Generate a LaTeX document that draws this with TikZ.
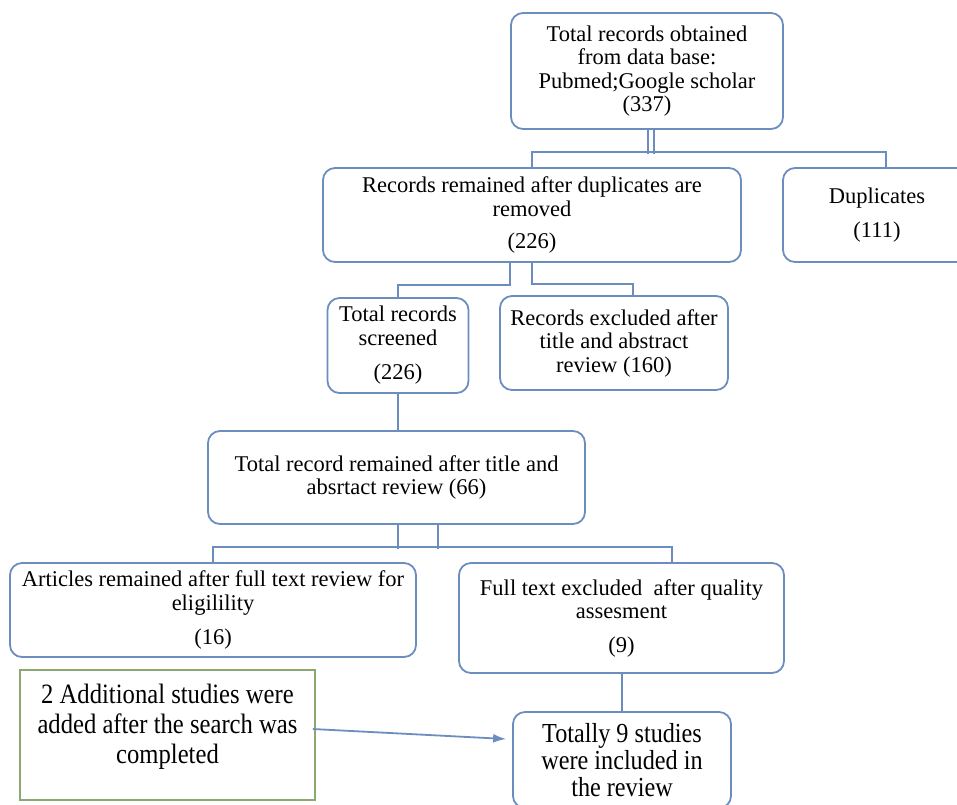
\documentclass[tikz,border=0pt]{standalone}
\usepackage{fontspec}
\setmainfont{Liberation Serif}
\newfontfamily\narrowfont[FakeStretch=0.88]{Liberation Serif}
\usetikzlibrary{arrows.meta,calc}
\definecolor{boxblue}{RGB}{108,142,191}
\definecolor{boxgreen}{RGB}{140,168,112}
\tikzset{
  bluebox/.style={draw=boxblue, line width=1.8pt, rounded corners=12pt, fill=white,
    align=center, inner sep=2pt, font=\fontsize{22.5}{23.5}\selectfont},
  greenbox/.style={draw=boxgreen, line width=1.8pt, fill=white},
  bigtext/.style={align=center, inner sep=0pt, font=\narrowfont\fontsize{28}{30}\selectfont},
  conn/.style={draw=boxblue, line width=1.8pt},
  arr/.style={draw=boxblue, line width=1.8pt, -{Latex[length=13pt,width=9pt]}},
}
\begin{document}
\begin{tikzpicture}[x=1pt,y=-1pt]
\useasboundingbox (0,0) rectangle (957,804);
\clip (0,0) rectangle (957,804);
\fill[white] (0,0) rectangle (957,804);

\node[bluebox, minimum width=272pt, minimum height=116pt] (top) at (647,71)
  {Total records obtained\\from data base:\\Pubmed;Google scholar\\(337)};
\node[bluebox, minimum width=418pt, minimum height=94pt] (rec) at (532,215)
  {Records remained after duplicates are\\removed\\[9pt](226)};
\node[bluebox, minimum width=188pt, minimum height=94pt] (dup) at (877,215)
  {Duplicates\\[11pt](111)};
\node[bluebox, minimum width=141pt, minimum height=95pt] (scr) at (398,345.5)
  {Total records\\screened\\[11pt](226)};
\node[bluebox, minimum width=228pt, minimum height=94pt] (exc) at (614,343)
  {Records excluded after\\title and abstract\\review (160)};
\node[bluebox, minimum width=377pt, minimum height=93pt] (rem) at (396.5,477.5)
  {Total record remained after title and\\absrtact review (66)};
\node[bluebox, minimum width=406pt, minimum height=94pt] (art) at (213,610)
  {Articles remained after full text review for\\eligilility\\[11pt](16)};
\node[bluebox, minimum width=325pt, minimum height=110pt] (ful) at (621.5,618)
  {Full text excluded\ \ after quality\\assesment\\[10pt](9)};
\node[bluebox, minimum width=218pt, minimum height=96pt,
      font=\narrowfont\fontsize{27.5}{27}\selectfont] (tot) at (622,760)
  {Totally 9 studies\\were included in\\the review};
\node[greenbox, minimum width=295pt, minimum height=130pt] (add) at (167.5,735) {};
\node[bigtext] (addtxt) at (167.5,727)
  {2 Additional studies were\\added after the search was\\completed};

% connectors
\draw[conn] ([xshift=1]top.south) -- ++(0,24);
\draw[conn] ([xshift=7]top.south) -- ++(0,24);
\draw[conn] (rec.north) -- ++(0,-15) -| ([xshift=9]dup.north);
\draw[conn] ([xshift=-22]rec.south) -- ++(0,22) -| (scr.north);
\draw[conn] (rec.south) -- ++(0,21) -| ([xshift=19]exc.north);
\draw[conn] (scr.south) -- (scr.south |- rem.north);
\draw[conn] ([xshift=1.5]rem.south) -- ++(0,24);
\draw[conn] ([xshift=41.5]rem.south) -- ++(0,24);
\draw[conn] (art.north) -- ++(0,-15) -| ([xshift=50.5]ful.north);
\draw[conn] (tot.north |- ful.south) -- (tot.north);
\draw[arr] ($(add.east)+(-3,-6)$) -- ($(tot.west)+(-6,-21)$);
\end{tikzpicture}
\end{document}
